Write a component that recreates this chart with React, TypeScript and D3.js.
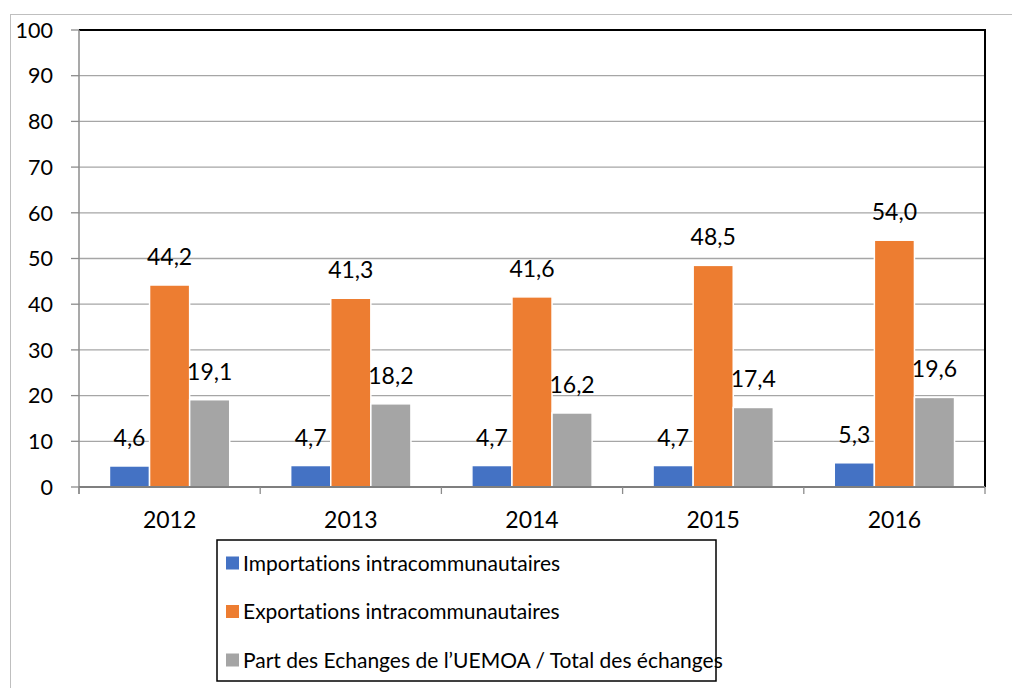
import React from "react";
import * as d3 from "d3";

const years = ["2012", "2013", "2014", "2015", "2016"];
const seriesNames = [
  "Importations intracommunautaires",
  "Exportations intracommunautaires",
  "Part des Echanges de l\u2019UEMOA / Total des échanges",
];
const importations = [4.6, 4.7, 4.7, 4.7, 5.3];
const exportations = [44.2, 41.3, 41.6, 48.5, 54.0];
const part = [19.1, 18.2, 16.2, 17.4, 19.6];
const colors = ["#4472C4", "#ED7D31", "#A5A5A5"];
const yTicks = [0, 10, 20, 30, 40, 50, 60, 70, 80, 90, 100];

const W = 1012;
const H = 688;
const left = 79;
const right = 985;
const top = 30;
const bottom = 487;
const FONT = "Lato, 'Open Sans', 'DejaVu Sans', sans-serif";

export default function App() {
  const series = [importations, exportations, part];
  const x = d3.scaleBand<string>().domain(years).range([left, right]).paddingInner(0).paddingOuter(0);
  const inner = d3
    .scaleBand<number>()
    .domain([0, 1, 2])
    .range([0, x.bandwidth()])
    .paddingInner(0)
    .paddingOuter(0.76);
  const y = d3.scaleLinear().domain([0, 100]).range([bottom, top]);
  const fmt = (v: number) => v.toFixed(1).replace(".", ",");
  const boundaries = d3.range(years.length + 1).map((i) => left + i * x.bandwidth());

  return (
    <svg
      width={W}
      height={H}
      style={{
        position: "absolute",
        left: 0,
        top: 0,
        display: "block",
        background: "#fff",
        fontVariantLigatures: "none",
        fontFeatureSettings: "'liga' 0, 'clig' 0",
      }}
      fontFamily={FONT}
    >
      <rect x={10.5} y={14.5} width={W + 10} height={H + 10} fill="none" stroke="#BFBFBF" strokeWidth={1} />
      {yTicks.map((t) => (
        <g key={t}>
          {t > 0 && (
            <line x1={left} x2={right} y1={y(t)} y2={y(t)} stroke="#A6A6A6" strokeWidth={1.3} />
          )}
          <line x1={left - 8} x2={left} y1={y(t)} y2={y(t)} stroke="#8C8C8C" strokeWidth={1.3} />
          <text x={53} y={y(t)} dy="0.36em" textAnchor="end" fontSize={21.5} fill="#000">
            {t}
          </text>
        </g>
      ))}
      {/* plot frame */}
      <line x1={left} x2={right} y1={top} y2={top} stroke="#000" strokeWidth={2} />
      <line x1={right} x2={right} y1={top - 1} y2={bottom} stroke="#000" strokeWidth={2} />
      <line x1={left} x2={left} y1={top} y2={bottom + 7} stroke="#8C8C8C" strokeWidth={1.5} />
      {series.map((vals, si) =>
        vals.map((v, i) => {
          const bx = (x(years[i]) as number) + (inner(si) as number);
          const bw = inner.bandwidth();
          return (
            <g key={`${si}-${i}`}>
              <rect
                x={bx}
                y={y(v)}
                width={bw}
                height={bottom - y(v)}
                fill={colors[si]}
                stroke="#fff"
                strokeWidth={1.5}
              />
              <text x={bx + bw / 2} y={y(v) - 20} textAnchor="middle" fontSize={23} fill="#000">
                {fmt(v)}
              </text>
            </g>
          );
        })
      )}
      <line x1={left} x2={right} y1={bottom} y2={bottom} stroke="#7F7F7F" strokeWidth={1.8} />
      {boundaries.map((bx, i) => (
        <line key={i} x1={bx} x2={bx} y1={bottom} y2={bottom + 7} stroke="#8C8C8C" strokeWidth={1.3} />
      ))}
      {years.map((yr) => (
        <text
          key={yr}
          x={(x(yr) as number) + x.bandwidth() / 2}
          y={528}
          textAnchor="middle"
          fontSize={23}
          fill="#000"
        >
          {yr}
        </text>
      ))}
      {/* legend */}
      <rect x={217} y={540} width={499} height={141} fill="#fff" stroke="#000" strokeWidth={1.5} />
      {seriesNames.map((name, i) => {
        const cy = 563 + i * 48.5;
        return (
          <g key={name}>
            <rect x={226} y={cy - 6.5} width={13} height={13} fill={colors[i]} />
            <text x={243} y={cy} dy="0.36em" fontSize={21} fill="#000">
              {name}
            </text>
          </g>
        );
      })}
    </svg>
  );
}
